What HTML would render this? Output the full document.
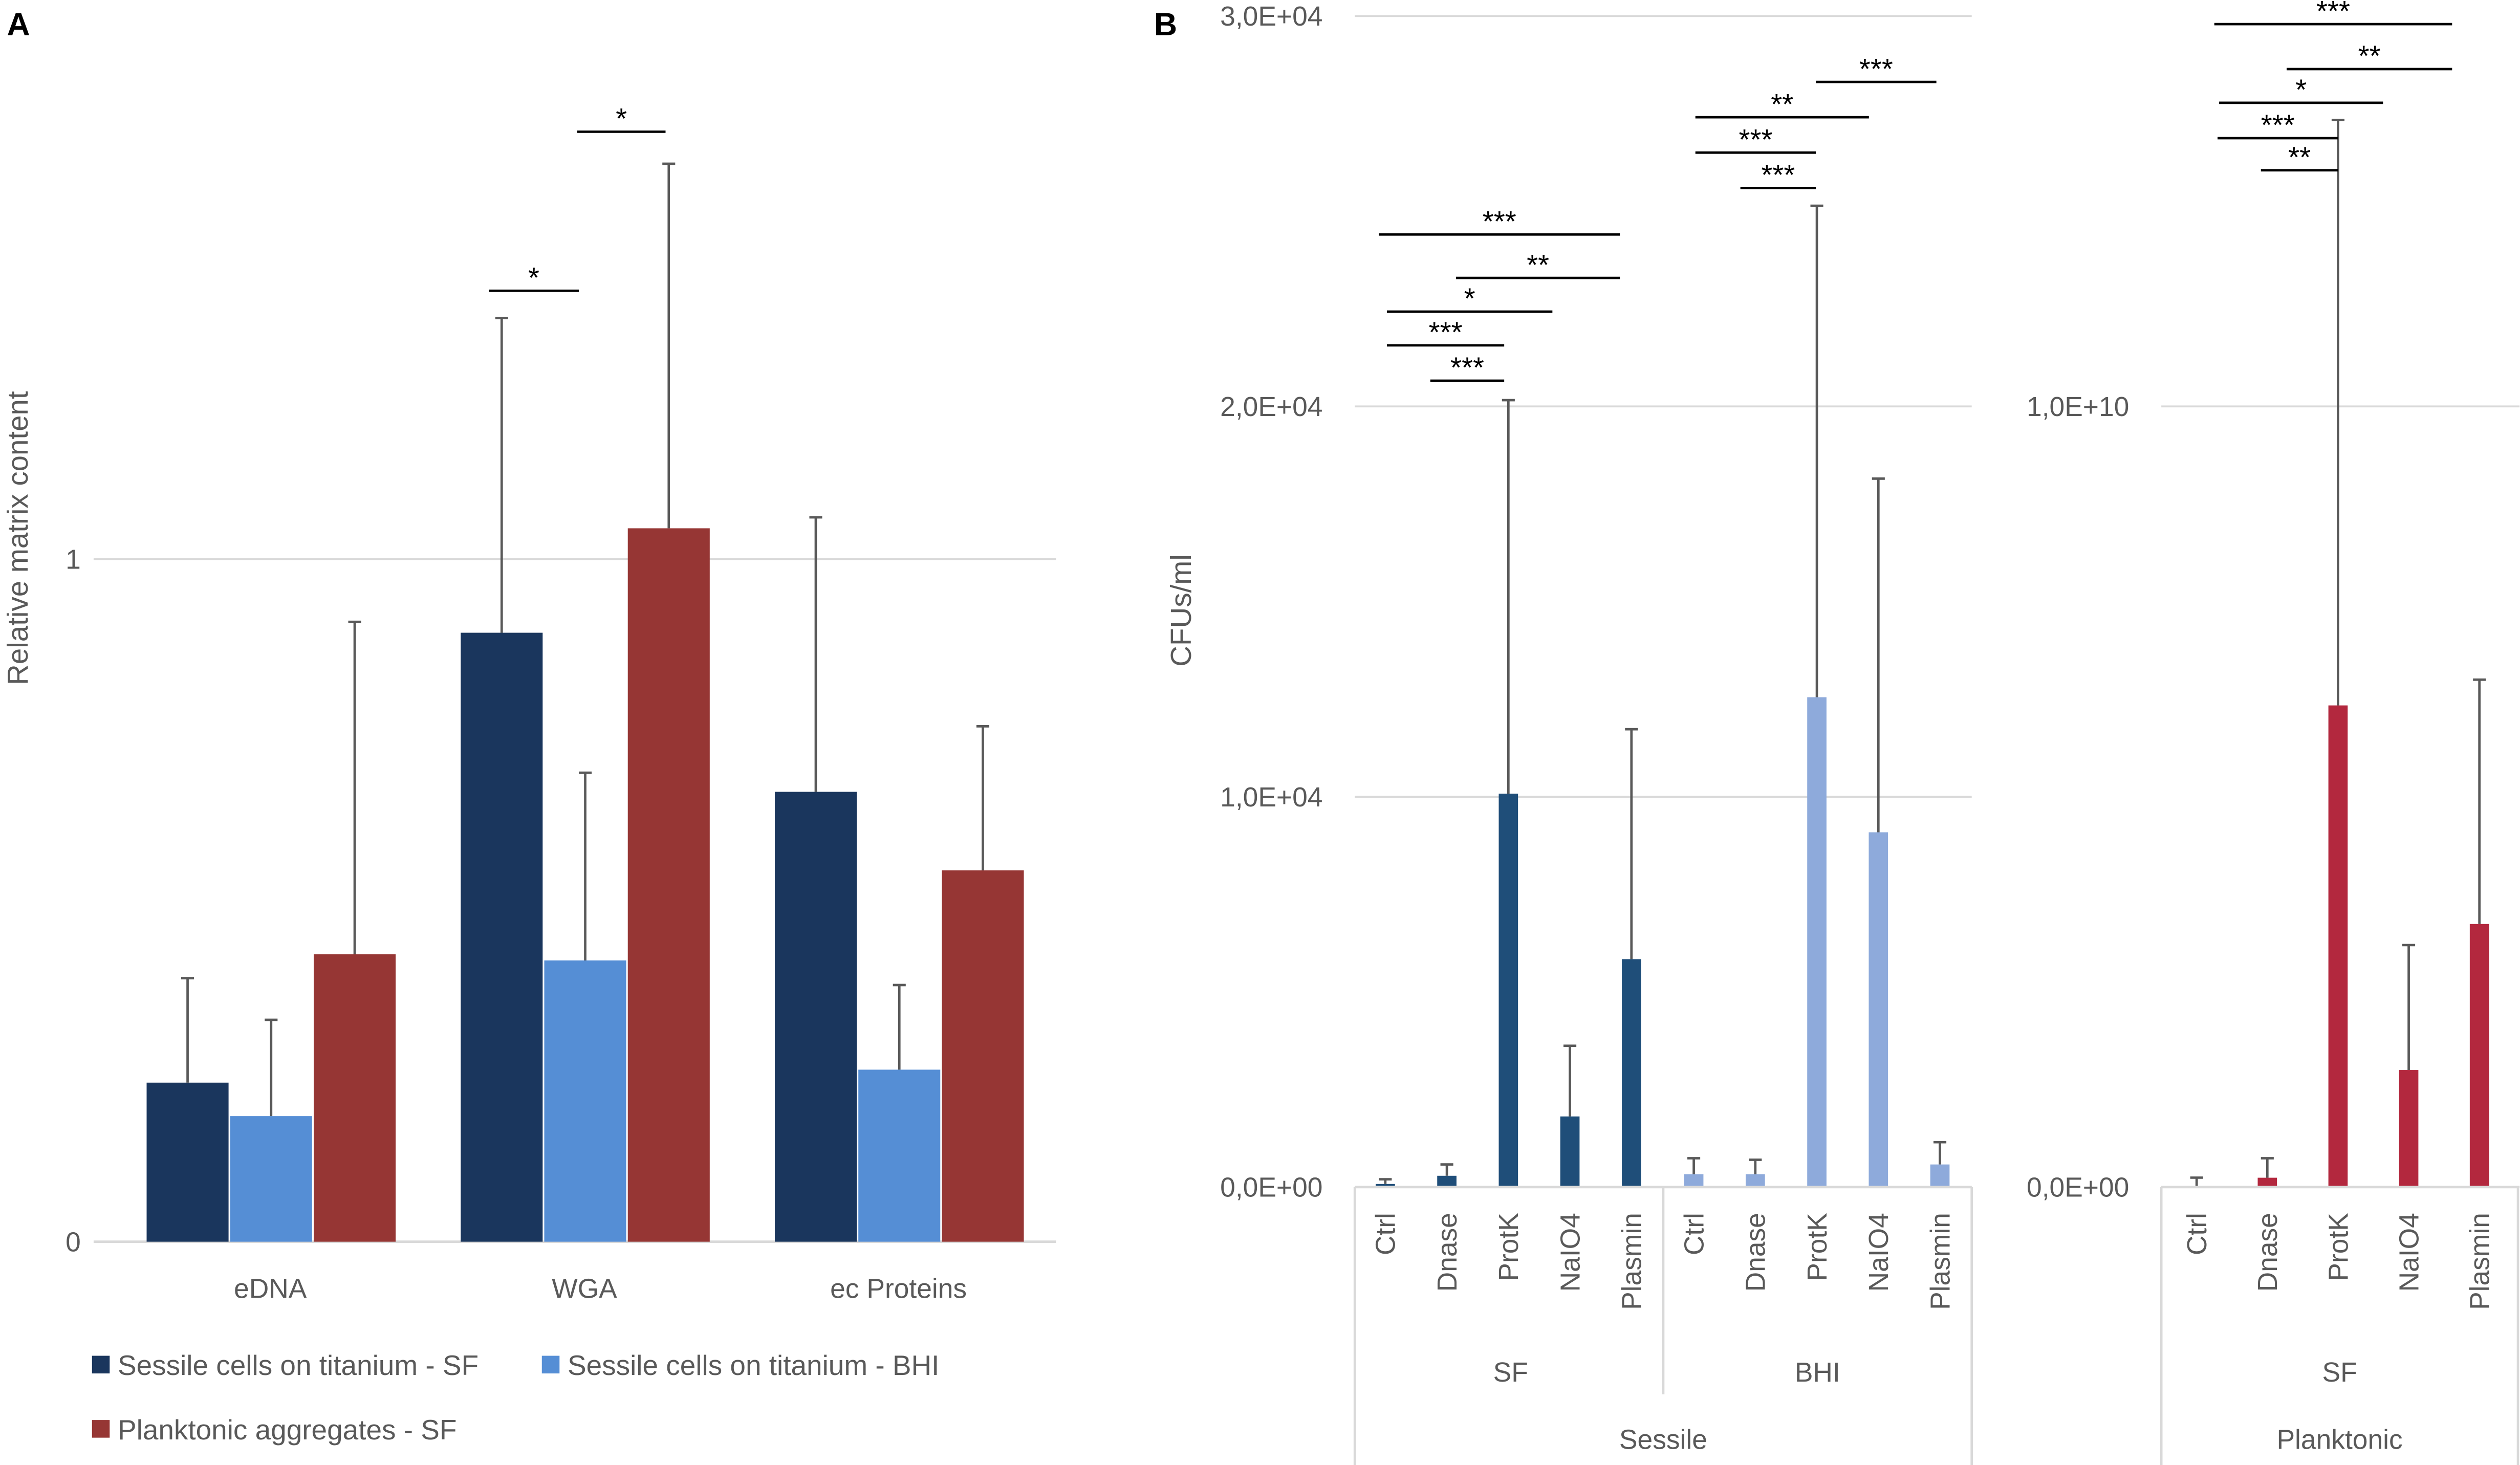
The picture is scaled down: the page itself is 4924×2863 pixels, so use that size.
<!DOCTYPE html>
<html><head><meta charset="utf-8"><style>
html,body{margin:0;padding:0;background:#fff;}
svg{display:block;font-family:"Liberation Sans",sans-serif;}
</style></head><body>
<svg id="c" width="4924" height="2863" viewBox="0 0 1568 912" xmlns="http://www.w3.org/2000/svg">
<text x="4" y="22" font-size="20" font-weight="bold">A</text>
<text x="718" y="22" font-size="20" font-weight="bold">B</text>
<g id="A"></g>
<g id="B"></g>
</svg>
<script>
// Panel A data
const aCats = ["eDNA","WGA","ec Proteins"];
const aSeriesNames = ["Sessile cells on titanium - SF","Sessile cells on titanium - BHI","Planktonic aggregates - SF"];
const aSF = [0.233, 0.892, 0.659];
const aSFErr = [0.153, 0.461, 0.402];
const aBHI = [0.184, 0.412, 0.252];
const aBHIErr = [0.141, 0.275, 0.124];
const aPlank = [0.421, 1.045, 0.544];
const aPlankErr = [0.487, 0.534, 0.211];
const aTicks = [0, 1];
// Panel B data
const bCats = ["Ctrl","Dnase","ProtK","NaIO4","Plasmin"];
const bTickLabelsS = ["0,0E+00","1,0E+04","2,0E+04","3,0E+04"];
const bTicksS = [0, 10000, 20000, 30000];
const bSessileSF = [80, 290, 10080, 1810, 5840];
const bSessileSFErr = [120, 290, 10080, 1810, 5890];
const bSessileBHI = [330, 330, 12550, 9090, 580];
const bSessileBHIErr = [410, 370, 12590, 9060, 570];
const bTickLabelsP = ["0,0E+00","1,0E+10"];
const bTicksP = [0, 1e10];
const bPlankSF = [1e6, 1.2e8, 6.17e9, 1.5e9, 3.37e9];
const bPlankSFErr = [1.2e8, 2.5e8, 7.5e9, 1.6e9, 3.13e9];

const NS="http://www.w3.org/2000/svg";
function mk(parent,tag,attrs,text){const e=document.createElementNS(NS,tag);for(const k in attrs)e.setAttribute(k,attrs[k]);if(text!==undefined)e.textContent=text;parent.appendChild(e);return e;}
const TXT="#595959", GRID="#d9d9d9", ERR="#595959";

// ---------- Panel A ----------
const A=document.getElementById('A');
const ay=v=>773-v*425;
const aGroupX=i=>168+i*195.5;
aTicks.forEach((t,i)=>{
  if(t>0){const g=mk(A,'line',{x1:58,x2:657,y1:ay(t),y2:ay(t),stroke:GRID,'stroke-width':1.2});
  }
  const l=mk(A,'text',{x:50,y:ay(t)+6,'text-anchor':'end','font-size':17,fill:TXT},String(t));
  
});
const base=mk(A,'line',{x1:58,x2:657,y1:773,y2:773,stroke:GRID,'stroke-width':1.5});

const aSeries=[[aSF,aSFErr,"#1a365d",-77],[aBHI,aBHIErr,"#558ed5",-25],[aPlank,aPlankErr,"#963634",27]];
aSeries.forEach(([vals,errs,col,off],s)=>{
  vals.forEach((v,i)=>{
    const x=aGroupX(i)+off, w=51;
    const r=mk(A,'rect',{x:x,y:ay(v),width:w,height:773-ay(v),fill:col});
    
    
    const cx=x+w/2, top=ay(v+errs[i]);
    const e=mk(A,'path',{d:`M${cx} ${ay(v)}V${top}M${cx-4} ${top}H${cx+4}`,stroke:ERR,'stroke-width':1.5,fill:'none'});
    
  });
});
aCats.forEach((c,i)=>{
  const t=mk(A,'text',{x:aGroupX(i),y:808,'text-anchor':'middle','font-size':17,fill:TXT},c);
  
});
const ayt=mk(A,'text',{x:0,y:0,transform:'translate(17,335) rotate(-90)','text-anchor':'middle','font-size':18,fill:TXT},'Relative matrix content');

[[304,360,181,"*"],[359,414,82,"*"]].forEach(([x1,x2,y,s])=>{
  const l=mk(A,'line',{x1,x2,y1:y,y2:y,stroke:'#000','stroke-width':1.5});
  
  const t=mk(A,'text',{x:(x1+x2)/2,y:y-2,'text-anchor':'middle','font-size':18},s);
  
});
[[57,850,"#1a365d",aSeriesNames[0]],[337,850,"#558ed5",aSeriesNames[1]],[57,890,"#963634",aSeriesNames[2]]].forEach(([x,y,c,n])=>{
  const r=mk(A,'rect',{x:x,y:y-6,width:11,height:11,fill:c});
  
  const t=mk(A,'text',{x:x+16,y:y+6,'font-size':17.5,fill:TXT},n);
  
});

// ---------- Panel B ----------
const B=document.getElementById('B');
const bys=v=>739-v*243/10000;
const byp=v=>739-v*486/1e10;
bTicksS.forEach((t,i)=>{
  const g=mk(B,'line',{x1:843,x2:1227,y1:bys(t),y2:bys(t),stroke:GRID,'stroke-width':1.2});
  
  const l=mk(B,'text',{x:823,y:bys(t)+6,'text-anchor':'end','font-size':17,fill:TXT},bTickLabelsS[i]);
  
});
bTicksP.forEach((t,i)=>{
  const g=mk(B,'line',{x1:1345,x2:1568,y1:byp(t),y2:byp(t),stroke:GRID,'stroke-width':1.2});
  
  const l=mk(B,'text',{x:1325,y:byp(t)+6,'text-anchor':'end','font-size':17,fill:TXT},bTickLabelsP[i]);
  
});
const byt=mk(B,'text',{x:0,y:0,transform:'translate(741,380) rotate(-90)','text-anchor':'middle','font-size':18,fill:TXT},'CFUs/ml');

function drawBars(vals,errs,x0,step,yf,col,prefix){
  vals.forEach((v,i)=>{
    const cx=x0+i*step, w=12;
    const r=mk(B,'rect',{x:cx-w/2,y:yf(v),width:w,height:739-yf(v),fill:col});
    
    
    const top=yf(v+errs[i]);
    const e=mk(B,'path',{d:`M${cx} ${yf(v)}V${top}M${cx-4} ${top}H${cx+4}`,stroke:ERR,'stroke-width':1.5,fill:'none'});
    
    const t=mk(B,'text',{x:0,y:0,transform:`translate(${cx+6},755) rotate(-90)`,'text-anchor':'end','font-size':17,fill:TXT},bCats[i]);
    
  });
}
drawBars(bSessileSF,bSessileSFErr,862,38.3,bys,"#1f4e79","sessile-sf");
drawBars(bSessileBHI,bSessileBHIErr,1054,38.3,bys,"#8eaadb","sessile-bhi");
drawBars(bPlankSF,bPlankSFErr,1367,44,byp,"#b3283e","planktonic-sf");
// axis frames
[[843,739,1227,739],[843,739,843,912],[1035,739,1035,868],[1227,739,1227,912],[1345,739,1568,739],[1345,739,1345,912],[1567,739,1567,912]].forEach(([x1,y1,x2,y2])=>{
  const l=mk(B,'line',{x1,y1,x2,y2,stroke:GRID,'stroke-width':1.5});
  
});
[[940,860,"SF"],[1131,860,"BHI"],[1035,902,"Sessile"],[1456,860,"SF"],[1456,902,"Planktonic"]].forEach(([x,y,s])=>{
  const t=mk(B,'text',{x,y,'text-anchor':'middle','font-size':17,fill:TXT},s);
  
});
[[858,1008,146,"***"],[906,1008,173,"**"],[863,966,194,"*"],[863,936,215,"***"],[890,936,237,"***"],
 [1130,1205,51,"***"],[1055,1163,73,"**"],[1055,1130,95,"***"],[1083,1130,117,"***"],
 [1378,1526,15,"***"],[1423,1526,43,"**"],[1381,1483,64,"*"],[1380,1455,86,"***"],[1407,1455,106,"**"]].forEach(([x1,x2,y,s])=>{
  const l=mk(B,'line',{x1,x2,y1:y,y2:y,stroke:'#000','stroke-width':1.5});
  
  const t=mk(B,'text',{x:(x1+x2)/2,y:y-2,'text-anchor':'middle','font-size':18},s);
  
});
</script>
</body></html>
